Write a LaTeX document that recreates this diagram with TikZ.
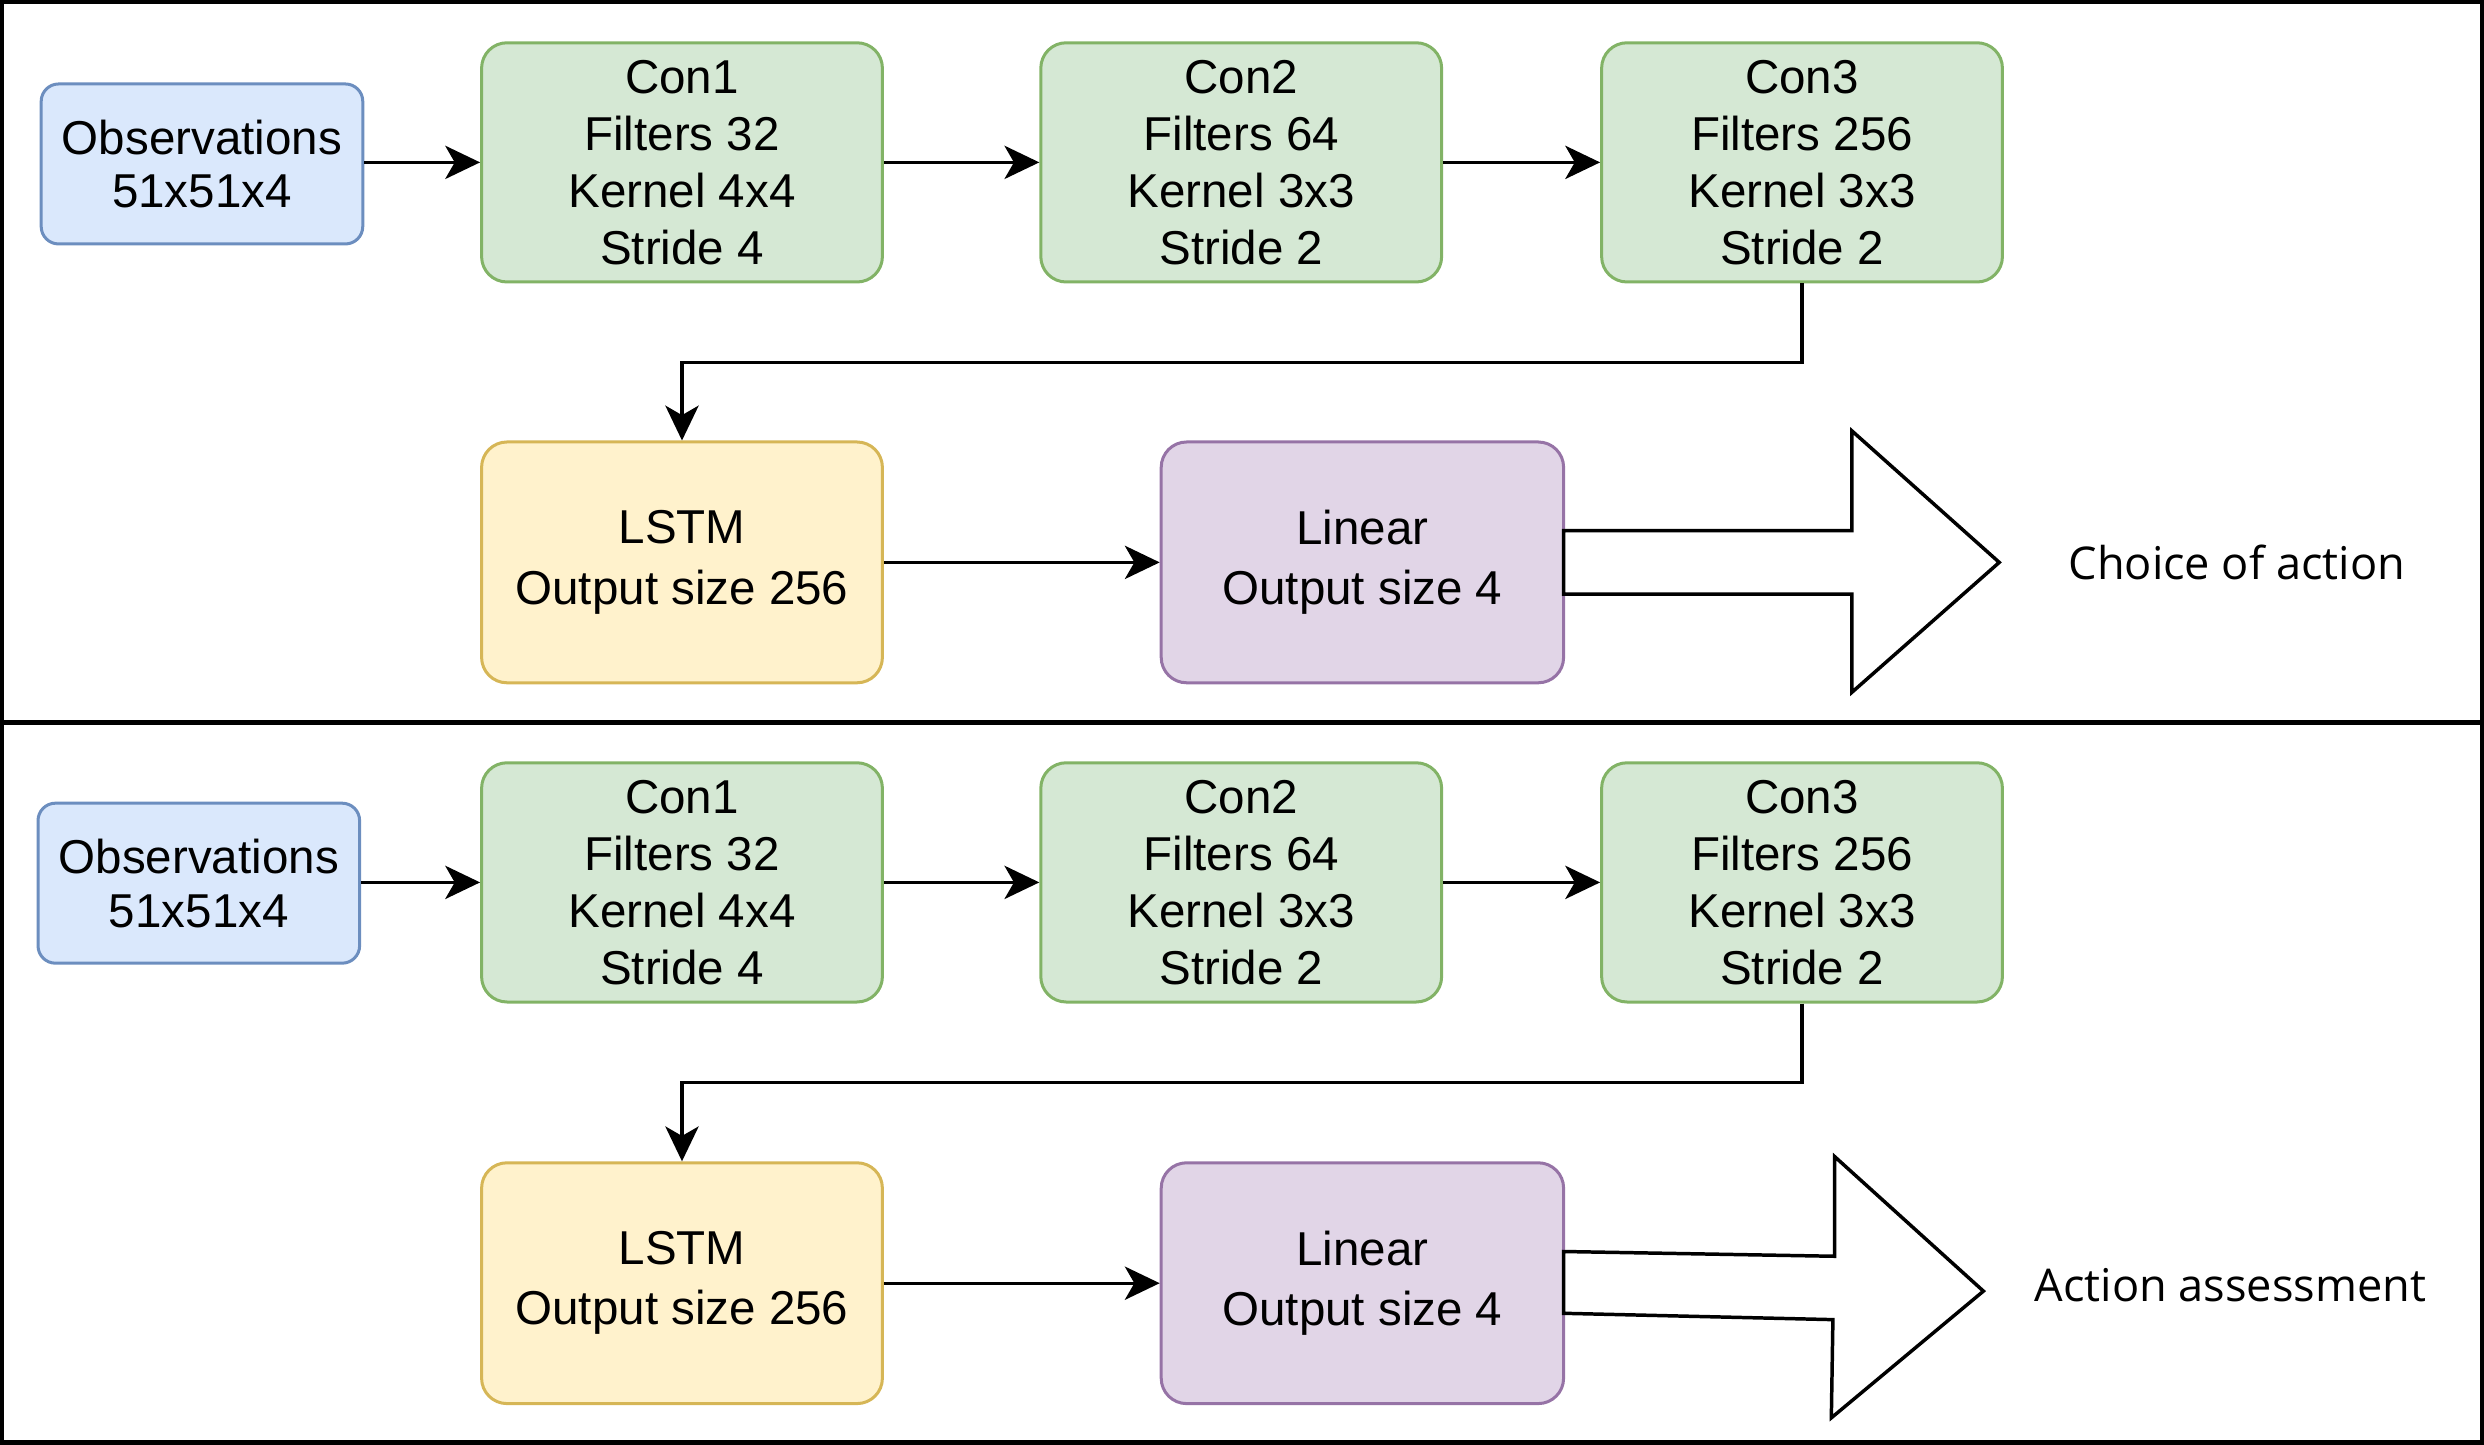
\documentclass[tikz,border=0pt]{standalone}
\usepackage{fontspec}
\setmainfont{Liberation Sans}
\newfontfamily\labelfont{Open Sans}
\usetikzlibrary{arrows.meta}
\definecolor{bluef}{HTML}{DAE8FC}\definecolor{bluel}{HTML}{6C8EBF}
\definecolor{greenf}{HTML}{D5E8D4}\definecolor{greenl}{HTML}{82B366}
\definecolor{yelf}{HTML}{FFF2CC}\definecolor{yell}{HTML}{D6B656}
\definecolor{purf}{HTML}{E1D5E7}\definecolor{purl}{HTML}{9673A6}
\begin{document}
\begin{tikzpicture}[x=1pt,y=-1pt,
  box/.style={draw, line width=1.9pt, inner sep=0pt, align=center,
    font=\fontsize{30}{36}\selectfont},
  obsbox/.style={box, fill=bluef, draw=bluel, minimum width=203pt, minimum height=101pt, rounded corners=11pt, font=\fontsize{30}{34}\selectfont},
  conbox/.style={box, fill=greenf, draw=greenl, minimum width=253pt, minimum height=151pt, rounded corners=16pt},
  lstmbox/.style={box, fill=yelf, draw=yell, minimum width=253pt, minimum height=152pt, rounded corners=16pt, font=\fontsize{30}{38}\selectfont},
  linbox/.style={box, fill=purf, draw=purl, minimum width=254pt, minimum height=152pt, rounded corners=16pt, font=\fontsize{30}{38}\selectfont},
  conn/.style={line width=2pt, -{Stealth[length=22pt,width=21pt,inset=6pt]}},
  bigarrow/.style={draw, fill=white, line width=2.2pt, line join=miter},
  outlabel/.style={font=\labelfont\fontsize{28.5}{34}\selectfont, inner sep=0pt},
  frame/.style={line width=2.8pt}
]
\useasboundingbox (0,0) rectangle (1568,912);
% frames
\draw[frame] (1.4,1.4) rectangle (1566.6,456);
\draw[frame] (1.4,456) rectangle (1566.6,910.6);

% ---- top panel ----
\node[obsbox] (obs1) at (127.5,103.5) {Observations\\51x51x4};
\node[conbox] (c11) at (430.5,102.5) {Con1\\Filters 32\\Kernel 4x4\\Stride 4};
\node[conbox] (c12) at (783.5,102.5) {Con2\\Filters 64\\Kernel 3x3\\Stride 2};
\node[conbox] (c13) at (1137.5,102.5) {Con3\\Filters 256\\Kernel 3x3\\Stride 2};
\node[lstmbox] (l1) at (430.5,355) {LSTM\\Output size 256};
\node[linbox] (lin1) at (860,355) {Linear\\Output size 4};
\draw[conn] (obs1.east |- c11) -- (c11);
\draw[conn] (c11) -- (c12);
\draw[conn] (c12) -- (c13);
\draw[conn] (c13.south) -- ++(0,50) -| (l1.north);
\draw[conn] (l1) -- (lin1);
\draw[bigarrow] (987,335) -- (1169,335) -- (1169,272) -- (1262,355) -- (1169,437) -- (1169,375) -- (987,375) -- cycle;
\node[outlabel] (out1) at (1412,355) {Choice of action};

% ---- bottom panel ----
\node[obsbox] (obs2) at (125.5,557.5) {Observations\\51x51x4};
\node[conbox] (c21) at (430.5,557) {Con1\\Filters 32\\Kernel 4x4\\Stride 4};
\node[conbox] (c22) at (783.5,557) {Con2\\Filters 64\\Kernel 3x3\\Stride 2};
\node[conbox] (c23) at (1137.5,557) {Con3\\Filters 256\\Kernel 3x3\\Stride 2};
\node[lstmbox] (l2) at (430.5,810) {LSTM\\Output size 256};
\node[linbox] (lin2) at (860,810) {Linear\\Output size 4};
\draw[conn] (obs2.east |- c21) -- (c21);
\draw[conn] (c21) -- (c22);
\draw[conn] (c22) -- (c23);
\draw[conn] (c23.south) -- ++(0,50) -| (l2.north);
\draw[conn] (l2) -- (lin2);
\draw[bigarrow] (987,790) -- (1158,793) -- (1158,730) -- (1252,815) -- (1156,895) -- (1157,833) -- (987,829) -- cycle;
\node[outlabel] (out2) at (1408,811) {Action assessment};
\end{tikzpicture}
\end{document}
